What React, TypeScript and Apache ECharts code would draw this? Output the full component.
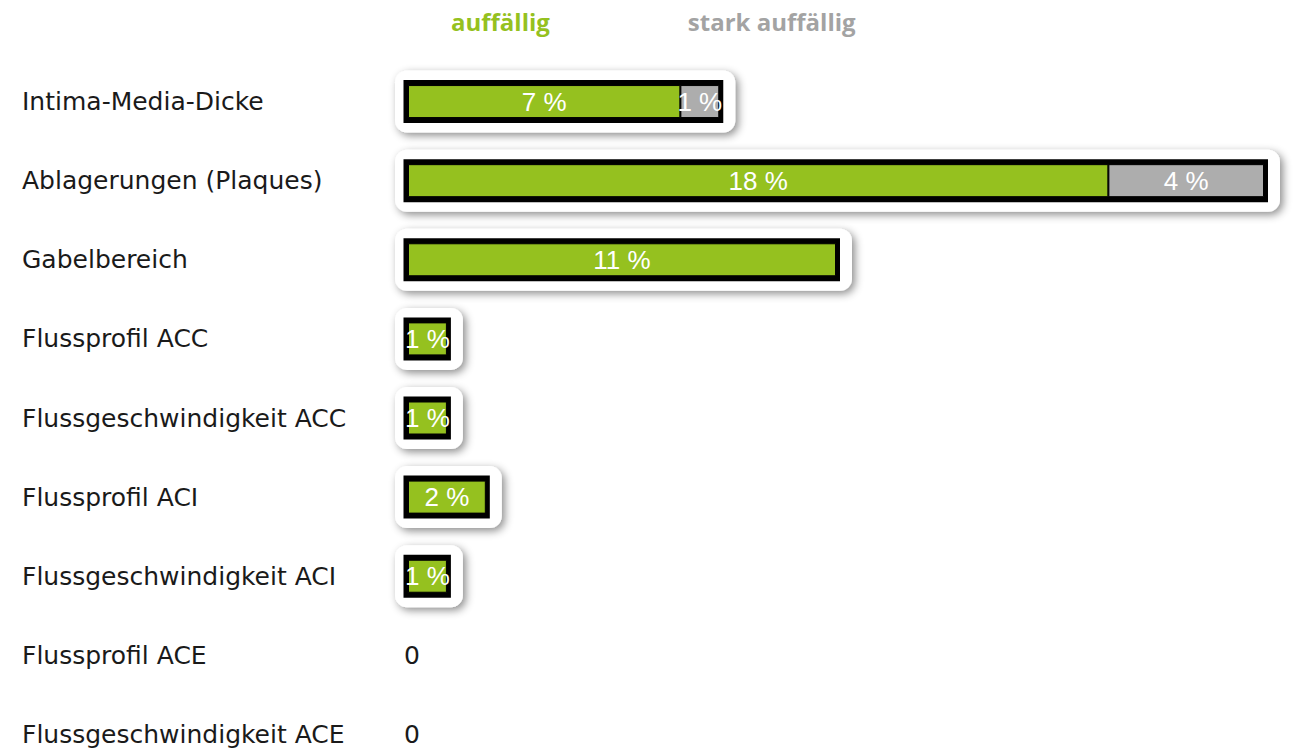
import React, { useEffect, useRef } from "react";
import * as echarts from "echarts";

const categories = [
  "Intima-Media-Dicke",
  "Ablagerungen (Plaques)",
  "Gabelbereich",
  "Flussprofil ACC",
  "Flussgeschwindigkeit ACC",
  "Flussprofil ACI",
  "Flussgeschwindigkeit ACI",
  "Flussprofil ACE",
  "Flussgeschwindigkeit ACE",
];
const auffaellig = [7, 18, 11, 1, 1, 2, 1, 0, 0];
const starkAuffaellig = [1, 4, 0, 0, 0, 0, 0, 0, 0];
const seriesNames = ["auffällig", "stark auffällig"];

const GREEN = "#95C11F";
const GRAY = "#ADADAD";
const LEGEND_GRAY = "#A3A3A3";

export default function App() {
  const ref = useRef<HTMLDivElement>(null);
  useEffect(() => {
    if (!ref.current) return;
    const chart = echarts.init(ref.current, null, { renderer: "svg" });
    const totals = categories.map((_, i) => [auffaellig[i] + starkAuffaellig[i], i]);
    const greenData = auffaellig.map((v) =>
      v === 0
        ? {
            value: 0,
            itemStyle: { borderWidth: 0 },
            label: {
              show: true,
              position: "insideLeft",
              distance: 0,
              offset: [-4, 0],
              color: "#1a1a1a",
              fontFamily: "DejaVu Sans",
              fontSize: 25,
              formatter: "0",
            },
          }
        : v
    );
    const grayData = starkAuffaellig.map((v) => (v === 0 ? "-" : v));
    chart.setOption({
      animation: false,
      legend: {
        data: [
          { name: seriesNames[0], textStyle: { color: GREEN } },
          { name: seriesNames[1], textStyle: { color: LEGEND_GRAY } },
        ],
        icon: "none",
        itemWidth: 0,
        left: 441,
        top: 4,
        itemGap: 133,
        selectedMode: false,
        textStyle: { fontFamily: "Open Sans", fontWeight: "bold", fontSize: 24 },
      },
      grid: { left: 408, right: 32, top: 62, height: 712 },
      xAxis: { type: "value", min: 0, max: 22, show: false },
      yAxis: {
        type: "category",
        data: categories,
        inverse: true,
        axisLine: { show: false },
        axisTick: { show: false },
        splitLine: { show: false },
        axisLabel: {
          align: "left",
          margin: 386,
          fontFamily: "DejaVu Sans",
          fontSize: 25,
          color: "#1a1a1a",
        },
      },
      series: [
        {
          type: "custom",
          name: "frame",
          z: 1,
          data: totals,
          encode: { x: 0, y: 1 },
          renderItem: (params: any, api: any) => {
            const total = api.value(0);
            const idx = api.value(1);
            if (!total) return { type: "group", children: [] };
            const p0 = api.coord([0, idx]);
            const p1 = api.coord([total, idx]);
            const cy = p0[1];
            const x0 = p0[0];
            const x1 = p1[0];
            return {
              type: "group",
              children: [
                {
                  type: "rect",
                  shape: { x: x0 - 13, y: cy - 31, width: x1 - x0 + 29, height: 62, r: 12 },
                  style: {
                    fill: "#fff",
                    shadowBlur: 8,
                    shadowOffsetX: 3,
                    shadowOffsetY: 3,
                    shadowColor: "rgba(0,0,0,0.45)",
                  },
                },
                {
                  type: "rect",
                  shape: { x: x0 - 4.5, y: cy - 21.5, width: x1 - x0 + 8.5, height: 43 },
                  style: { fill: "#000" },
                },
              ],
            };
          },
        },
        {
          type: "bar",
          name: seriesNames[0],
          stack: "total",
          z: 2,
          barWidth: 33,
          data: greenData,
          itemStyle: { color: GREEN, borderColor: "#000", borderWidth: 1 },
          label: {
            show: true,
            position: "inside",
            color: "#fff",
            fontFamily: "Liberation Sans",
            fontSize: 26,
            formatter: (p: any) => (p.value ? `${p.value} %` : "0"),
          },
        },
        {
          type: "bar",
          name: seriesNames[1],
          stack: "total",
          z: 2,
          barWidth: 33,
          data: grayData,
          itemStyle: { color: GRAY, borderColor: "#000", borderWidth: 1 },
          label: {
            show: true,
            position: "inside",
            color: "#fff",
            fontFamily: "Liberation Sans",
            fontSize: 26,
            formatter: (p: any) => `${p.value} %`,
          },
        },
      ],
    });
    return () => chart.dispose();
  }, []);
  return (
    <div
      style={{
        position: "absolute",
        left: 0,
        top: 0,
        width: 1296,
        height: 753,
        overflow: "hidden",
      }}
    >
      <div ref={ref} style={{ width: 1296, height: 800 }} />
    </div>
  );
}
